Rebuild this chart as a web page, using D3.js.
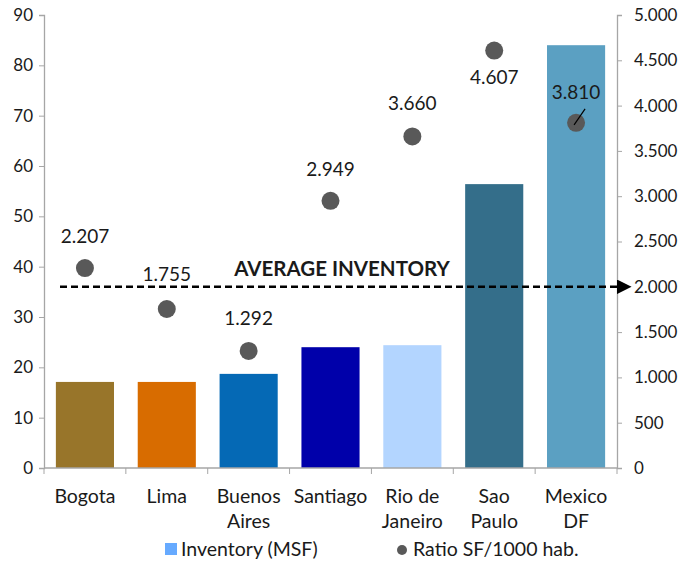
<!DOCTYPE html>
<html>
<head>
<meta charset="utf-8">
<script src="https://cdn.jsdelivr.net/npm/d3@7"></script>
<style>
  body { margin: 0; background: #fff; }
  text { font-family: Lato, "Open Sans", sans-serif; fill: #1a1a1a; }
</style>
</head>
<body>
<script>
var width = 694;
var height = 567;

var cities = [["Bogota"], ["Lima"], ["Buenos", "Aires"], ["Santiago"], ["Rio de", "Janeiro"], ["Sao", "Paulo"], ["Mexico", "DF"]];
var inventory = [17.1, 17.1, 18.7, 24.0, 24.4, 56.4, 84.0];
var ratio = [2207, 1755, 1292, 2949, 3660, 4607, 3810];
var ratioLabels = ["2.207", "1.755", "1.292", "2.949", "3.660", "4.607", "3.810"];
var barColors = ["#98752a", "#d86c00", "#0569b5", "#0000aa", "#b3d5ff", "#346e8a", "#5ba0c2"];
var leftTicks = [0, 10, 20, 30, 40, 50, 60, 70, 80, 90];
var rightTicks = [0, 500, 1000, 1500, 2000, 2500, 3000, 3500, 4000, 4500, 5000];
var averageRatio = 2000;

var margin = { left: 44, right: 77, top: 15, bottom: 99 };

var svg = d3.select("body").append("svg")
    .attr("width", width)
    .attr("height", height);

var x = d3.scaleBand()
    .domain(d3.range(cities.length))
    .range([margin.left, width - margin.right])
    .paddingInner(0.29)
    .paddingOuter(0.145);

var yL = d3.scaleLinear().domain([0, 90]).range([height - margin.bottom, margin.top]);
var yR = d3.scaleLinear().domain([0, 5000]).range([height - margin.bottom, margin.top]);

var fmt = function (d) { return d3.format(",")(d).replace(/,/g, "."); };

// bars
svg.selectAll(".bar")
    .data(inventory)
  .enter().append("rect")
    .attr("class", "bar")
    .attr("x", function (d, i) { return x(i); })
    .attr("width", x.bandwidth())
    .attr("y", function (d) { return yL(d); })
    .attr("height", function (d) { return yL(0) - yL(d); })
    .style("fill", function (d, i) { return barColors[i]; });

// left axis
var axL = svg.append("g")
    .attr("transform", "translate(" + margin.left + ",0)")
    .call(d3.axisLeft(yL).tickValues(leftTicks).tickSize(5).tickPadding(6));
// right axis
var axR = svg.append("g")
    .attr("transform", "translate(" + (width - margin.right) + ",0)")
    .call(d3.axisRight(yR).tickValues(rightTicks).tickFormat(fmt).tickSize(5).tickPadding(12));

[axL, axR].forEach(function (a) {
  a.select(".domain").attr("stroke", "#a6a6a6").attr("stroke-width", 1.3);
  a.selectAll(".tick line").attr("stroke", "#a6a6a6");
  a.selectAll("text").style("font-size", "17px").style("font-family", "Lato, sans-serif").attr("fill", "#1a1a1a");
});

// x axis line and category ticks
var step = x.step();
var x0 = margin.left, x1 = width - margin.right;
svg.append("line")
    .attr("x1", x0).attr("x2", x1)
    .attr("y1", yL(0)).attr("y2", yL(0))
    .attr("stroke", "#a6a6a6").attr("stroke-width", 1.3);
svg.selectAll(".xtick")
    .data(d3.range(cities.length + 1))
  .enter().append("line")
    .attr("x1", function (d) { return x0 + d * step; })
    .attr("x2", function (d) { return x0 + d * step; })
    .attr("y1", yL(0)).attr("y2", yL(0) + 6)
    .attr("stroke", "#a6a6a6");

var catLabels = svg.selectAll(".cat")
    .data(cities)
  .enter().append("text")
    .attr("class", "cat")
    .attr("text-anchor", "middle")
    .attr("x", function (d, i) { return x(i) + x.bandwidth() / 2; })
    .attr("y", yL(0) + 35)
    .style("font-size", "19.5px");
catLabels.selectAll("tspan")
    .data(function (d) { return d; })
  .enter().append("tspan")
    .attr("x", function () { return d3.select(this.parentNode).attr("x"); })
    .attr("dy", function (d, i) { return i === 0 ? 0 : 25; })
    .text(function (d) { return d; });

// average line
var avgY = yR(averageRatio);
svg.append("defs").append("marker")
    .attr("id", "arrow")
    .attr("viewBox", "0 0 10 10")
    .attr("refX", 0).attr("refY", 5)
    .attr("markerWidth", 5.6).attr("markerHeight", 5.6)
    .attr("markerUnits", "strokeWidth")
    .attr("orient", "auto")
  .append("path").attr("d", "M0,0 L10,5 L0,10 Z").attr("fill", "#000");
svg.append("line")
    .attr("x1", 60).attr("x2", x1)
    .attr("y1", avgY).attr("y2", avgY)
    .attr("stroke", "#000").attr("stroke-width", 2.6)
    .attr("stroke-dasharray", "7,4")
    .attr("marker-end", "url(#arrow)");
svg.append("text")
    .attr("x", 342).attr("y", avgY - 11)
    .attr("text-anchor", "middle")
    .style("font-size", "20.5px").style("font-weight", "bold")
    .text("AVERAGE INVENTORY");

// ratio dots
var cx = function (i) { return x(i) + x.bandwidth() / 2; };
svg.selectAll(".dot")
    .data(ratio)
  .enter().append("circle")
    .attr("cx", function (d, i) { return cx(i); })
    .attr("cy", function (d) { return yR(d); })
    .attr("r", 9)
    .attr("fill", "#595959");

// labels (4.607 sits below its dot, 3.810 above with leader)
var labOff = [-25, -28, -26, -25, -26, 33, -24];
svg.selectAll(".rlab")
    .data(ratio)
  .enter().append("text")
    .attr("text-anchor", "middle")
    .attr("x", function (d, i) { return cx(i); })
    .attr("y", function (d, i) { return yR(d) + labOff[i]; })
    .style("font-size", "19px")
    .text(function (d, i) { return ratioLabels[i]; });
svg.append("line")
    .attr("x1", cx(6) - 2).attr("y1", yR(ratio[6]) + 2)
    .attr("x2", cx(6) + 9).attr("y2", yR(ratio[6]) - 14)
    .attr("stroke", "#000").attr("stroke-width", 1.2);

// legend
var lg = svg.append("g");
lg.append("rect").attr("x", 165).attr("y", 543).attr("width", 12).attr("height", 12).attr("fill", "#66aaff");
lg.append("text").attr("x", 181).attr("y", 556).style("font-size", "19.5px").text("Inventory (MSF)");
lg.append("circle").attr("cx", 402).attr("cy", 550).attr("r", 5).attr("fill", "#595959");
lg.append("text").attr("x", 413).attr("y", 556).style("font-size", "19.5px").text("Ratio SF/1000 hab.");
</script>
</body>
</html>
